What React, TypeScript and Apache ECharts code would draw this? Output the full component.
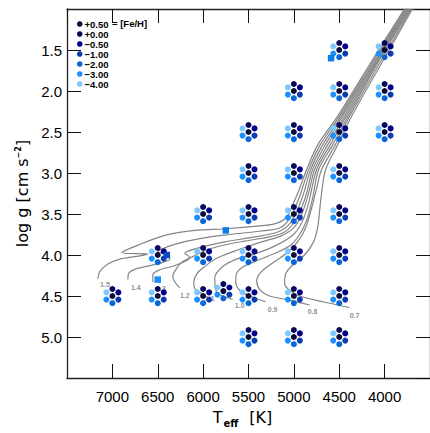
import React, { useEffect, useRef } from "react";
import * as echarts from "echarts";

// ---- data ----
const metallicities = ["+0.50", "+0.00", "\u22120.50", "\u22121.00", "\u22122.00", "\u22123.00", "\u22124.00"];
const metalColors = ["#0b0b38", "#07075c", "#000088", "#0c3cb2", "#0a66d6", "#1a90ff", "#7cc8ff"];

// model atmosphere grid points [Teff, log g]
const modelGrid = [
  [4500, 1.5], [4000, 1.5],
  [5000, 2.0], [4500, 2.0], [4000, 2.0],
  [5500, 2.5], [5000, 2.5], [4500, 2.5], [4000, 2.5],
  [5500, 3.0], [5000, 3.0], [4500, 3.0],
  [6000, 3.5], [5500, 3.5], [5000, 3.5], [4500, 3.5],
  [6500, 4.0], [6000, 4.0], [5500, 4.0], [5000, 4.0], [4500, 4.0],
  [7000, 4.5], [6500, 4.5], [6000, 4.5], [5777, 4.44], [5500, 4.5], [5000, 4.5], [4500, 4.5],
  [5500, 5.0], [5000, 5.0], [4500, 5.0],
];

// individual stars (squares)
const starPoints = [[6400, 4.0], [6500, 4.3], [5750, 3.7], [4590, 1.6]];
const starColors = ["#0a4cc0", "#1a8cff", "#0a7ee8", "#0a7ee8"];

// evolutionary tracks
const trackMasses = ["1.5", "1.4", "1.3", "1.2", "1.1", "1.0", "0.9", "0.8", "0.7"];
const track15 = [[7160, 4.29], [7137, 4.2], [7049, 4.11], [6917, 4.05], [6752, 4.02], [6609, 3.99], [6895, 3.97], [6697, 3.87], [6422, 3.76], [6092, 3.7], [5751, 3.68], [5432, 3.65], [5212, 3.62], [5080, 3.54], [5014, 3.39], [4959, 3.25], [4860, 2.96], [4739, 2.66], [4519, 2.31], [4123, 1.6], [3782, 1.0]];
const track14 = [[6829, 4.3], [6818, 4.22], [6741, 4.17], [6587, 4.13], [6444, 4.09], [6367, 4.05], [6389, 4.0], [6499, 3.96], [6312, 3.87], [6037, 3.8], [5707, 3.75], [5377, 3.71], [5157, 3.67], [5047, 3.56], [4981, 3.41], [4926, 3.25], [4838, 2.96], [4712, 2.66], [4500, 2.31], [4108, 1.6], [3771, 1.0]];
const track13 = [[6554, 4.33], [6554, 4.24], [6477, 4.18], [6345, 4.14], [6202, 4.08], [6147, 4.03], [6202, 3.98], [6037, 3.91], [5762, 3.84], [5432, 3.78], [5179, 3.72], [5047, 3.62], [4959, 3.44], [4893, 3.25], [4816, 2.96], [4684, 2.66], [4481, 2.31], [4093, 1.6], [3760, 1.0]];
const track12 = [[6257, 4.4], [6312, 4.33], [6334, 4.26], [6290, 4.16], [6224, 4.08], [6114, 4.02], [6004, 3.96], [5817, 3.89], [5542, 3.83], [5267, 3.78], [5102, 3.72], [5003, 3.61], [4926, 3.45], [4860, 3.25], [4794, 2.96], [4656, 2.66], [4464, 2.31], [4079, 1.6], [3749, 1.0]];
const track11 = [[6004, 4.47], [6081, 4.43], [6103, 4.33], [6070, 4.23], [5993, 4.15], [5850, 4.04], [5597, 3.93], [5355, 3.84], [5146, 3.77], [5003, 3.67], [4915, 3.51], [4838, 3.25], [4772, 2.96], [4629, 2.66], [4442, 2.31], [4068, 1.6], [3738, 1.0]];
const track10 = [[5674, 4.54], [5784, 4.5], [5850, 4.46], [5872, 4.28], [5784, 4.14], [5630, 4.05], [5410, 3.98], [5190, 3.88], [5014, 3.76], [4915, 3.61], [4838, 3.37], [4750, 2.96], [4601, 2.66], [4423, 2.31], [4057, 1.6], [3727, 1.0]];
const track09 = [[5311, 4.57], [5487, 4.5], [5597, 4.43], [5641, 4.33], [5630, 4.22], [5553, 4.14], [5410, 4.07], [5190, 3.97], [5036, 3.88], [4937, 3.75], [4860, 3.58], [4794, 3.31], [4728, 2.96], [4574, 2.66], [4404, 2.31], [4046, 1.6], [3716, 1.0]];
const track08 = [[4827, 4.61], [5047, 4.55], [5267, 4.5], [5377, 4.42], [5410, 4.31], [5355, 4.2], [5212, 4.08], [5069, 3.97], [4959, 3.84], [4871, 3.67], [4805, 3.43], [4750, 3.19], [4695, 2.96], [4546, 2.66], [4387, 2.31], [4024, 1.6], [3705, 1.0]];
const track07 = [[4387, 4.64], [4684, 4.57], [4937, 4.5], [5047, 4.43], [5102, 4.35], [5091, 4.23], [5003, 4.11], [4882, 4.0], [4783, 3.84], [4739, 3.67], [4717, 3.47], [4695, 3.25], [4651, 2.96], [4519, 2.66], [4365, 2.31], [4002, 1.6], [3694, 1.0]];
const tracks = [track15, track14, track13, track12, track11, track10, track09, track08, track07];
// where each mass label sits [Teff, log g]
const massLabelPos = [[7082, 4.36], [6741, 4.4], [6466, 4.41], [6202, 4.49], [5927, 4.53], [5597, 4.62], [5234, 4.66], [4794, 4.69], [4332, 4.74]];

const xTicks = { min: 3500, max: 7500, step: 500 };
const yTicks = { min: 1.0, max: 5.5, step: 0.5 };

// ---- style ----
const clusterOffsets = [[0, 0], [0, -7], [6, -3.6], [6, 3.6], [0, 7.2], [-6, 3.6], [-6, -3.6]];
const FONT = "Liberation Sans, Arial, sans-serif";
const TFONT = "DejaVu Sans, sans-serif";

export default function App() {
  const ref = useRef<HTMLDivElement>(null);
  useEffect(() => {
    if (!ref.current) return;
    const chart = echarts.init(ref.current, null, { renderer: "svg" });
    const axisLine = { show: true, lineStyle: { color: "#222", width: 1.3 } };
    const axisTick = { show: true, inside: true, length: 14, lineStyle: { color: "#111", width: 1 } };
    const labelStyle = { color: "#000", fontSize: 15, fontFamily: FONT };
    const option: any = {
      animation: false,
      grid: { left: 67, right: -1, top: 9, bottom: 44 },
      legend: {
        data: metallicities,
        orient: "vertical",
        left: 77,
        top: 19,
        itemWidth: 5.5,
        itemHeight: 5.5,
        itemGap: 0,
        icon: "circle",
        padding: 0,
        selectedMode: false,
        itemStyle: { opacity: 1 },
        textStyle: { fontSize: 9.5, fontWeight: "bold", color: "#000", fontFamily: FONT, lineHeight: 7.9, padding: [0, 0, 0, -3] },
      },
      graphic: [
        { type: "text", left: 112, top: 18, style: { text: "= [Fe/H]", fontSize: 9.5, fontWeight: "bold", fill: "#000", fontFamily: FONT } },
      ],
      xAxis: [
        {
          type: "value", min: xTicks.min, max: xTicks.max, interval: xTicks.step, inverse: true, position: "bottom",
          axisLine, axisTick, splitLine: { show: false },
          axisLabel: { ...labelStyle, margin: 11, showMinLabel: false, showMaxLabel: false, formatter: (v: number) => String(v) },
          name: "{t|T}{s|eff}{k|[K]}", nameLocation: "middle", nameGap: 30,
          nameTextStyle: {
            padding: [0, 12, 0, 0],
            rich: {
              t: { fontSize: 16, fontFamily: TFONT, color: "#000", lineHeight: 17, verticalAlign: "bottom" },
              s: { fontSize: 10, fontFamily: TFONT, color: "#000", fontWeight: "bold", lineHeight: 10, verticalAlign: "bottom", padding: [0, 0, -3, 1] },
              k: { fontSize: 16, fontFamily: TFONT, color: "#000", lineHeight: 17, verticalAlign: "bottom", padding: [0, 0, 0, 11] },
            },
          },
        },
        {
          type: "value", min: xTicks.min, max: xTicks.max, interval: xTicks.step, inverse: true, position: "top",
          axisLine, axisTick, splitLine: { show: false }, axisLabel: { show: false },
        },
      ],
      yAxis: [
        {
          type: "value", min: yTicks.min, max: yTicks.max, interval: yTicks.step, inverse: true, position: "left",
          axisLine, axisTick, splitLine: { show: false },
          axisLabel: { ...labelStyle, margin: 5, showMinLabel: false, showMaxLabel: false, formatter: (v: number) => v.toFixed(1) },
          name: "{t|log g [cm s}{u|\u22122}{t|]}", nameLocation: "middle", nameGap: 27, nameRotate: 90,
          nameTextStyle: {
            rich: {
              t: { fontSize: 16, fontFamily: TFONT, color: "#000", lineHeight: 17, verticalAlign: "top" },
              u: { fontSize: 8, fontFamily: TFONT, color: "#000", fontWeight: "bold", lineHeight: 8, verticalAlign: "top" },
            },
          },
        },
        {
          type: "value", min: yTicks.min, max: yTicks.max, interval: yTicks.step, inverse: true, position: "right",
          axisLine, axisTick, splitLine: { show: false }, axisLabel: { show: false },
        },
      ],
      series: [
        ...tracks.map((pts, i) => ({
          type: "line", name: "M" + trackMasses[i], data: pts, showSymbol: false, smooth: 0.3, silent: true,
          lineStyle: { color: "#858585", width: 1.2 }, z: 2, emphasis: { disabled: true },
        })),
        {
          type: "scatter", name: "masses", silent: true, symbolSize: 0, z: 3,
          data: massLabelPos.map((p, i) => ({ value: p, label: { formatter: trackMasses[i] } })),
          label: { show: true, position: "inside", color: "#707070", fontSize: 7, fontWeight: "bold", fontFamily: FONT },
        },
        ...metallicities.map((name, i) => ({
          type: "scatter", name, data: modelGrid, symbol: "circle", symbolSize: 6,
          symbolOffset: clusterOffsets[i], itemStyle: { color: metalColors[i], opacity: 1 }, z: 4, silent: true,
          emphasis: { disabled: true },
        })),
        {
          type: "scatter", name: "stars", symbol: "rect", symbolSize: 6.5, z: 5, silent: true,
          itemStyle: { opacity: 1 },
          data: starPoints.map((p, i) => ({ value: p, itemStyle: { color: starColors[i], opacity: 1 } })),
        },
      ],
    };
    chart.setOption(option);
    return () => chart.dispose();
  }, []);
  return <div ref={ref} style={{ position: "absolute", left: 0, top: 0, width: 430, height: 433, background: "#fff" }} />;
}
